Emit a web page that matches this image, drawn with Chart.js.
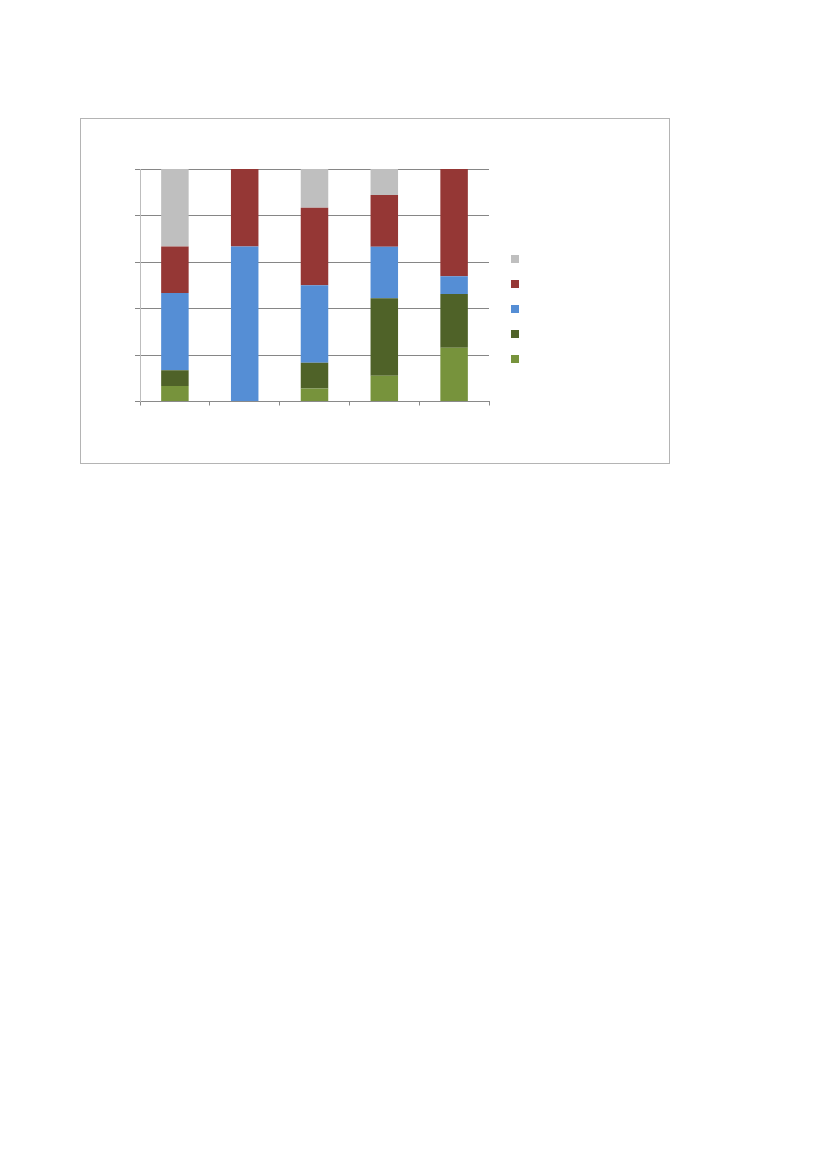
<!DOCTYPE html>
<html>
<head>
<meta charset="utf-8">
<script src="https://cdn.jsdelivr.net/npm/chart.js@4/dist/chart.umd.min.js"></script>
<style>
    body { margin: 0; background: #fff; font-family: "Liberation Sans", Arial, sans-serif; }
    #box {
        position: absolute; left: 80px; top: 118px;
        width: 590px; height: 346px;
        border: 1px solid #b4b4b4; box-sizing: border-box;
    }
    #box canvas { display: block; }
    #legend { position: absolute; left: 430px; top: 136px; margin: 0; padding: 0; list-style: none; }
    #legend li { width: 8px; height: 8px; margin: 0 0 17.1px 0; }
</style>
</head>
<body>
<div id="box">
    <canvas id="myChart" width="588" height="344"></canvas>
    <ul id="legend"></ul>
</div>
<script>
// categories and series (percent of each column, 100% stacked)
const categories = ['1', '2', '3', '4', '5'];
const seriesNames = ['Series 1', 'Series 2', 'Series 3', 'Series 4', 'Series 5'];
const series1 = [6.7, 0, 5.6, 11.1, 23.1];
const series2 = [6.7, 0, 11.1, 33.3, 23.1];
const series3 = [33.3, 66.7, 33.3, 22.2, 7.7];
const series4 = [20, 33.3, 33.3, 22.2, 46.1];
const series5 = [33.3, 0, 16.7, 11.2, 0];
const yTicks = [0, 20, 40, 60, 80, 100];

const colors = ['#77933C', '#4F6228', '#558ED5', '#953735', '#BFBFBF'];
const values = [series1, series2, series3, series4, series5];

function barChart() {
    const ctx = document.getElementById('myChart').getContext('2d');

    const datasets = values.map((v, i) => ({
        label: seriesNames[i],
        data: v,
        backgroundColor: colors[i],
        borderWidth: 0,
        categoryPercentage: 1,
        barPercentage: 0.394
    }));

    // legend drawn as html squares, top to bottom = last series first
    const htmlLegend = {
        id: 'htmlLegend',
        afterUpdate(chart) {
            const ul = document.getElementById('legend');
            ul.innerHTML = '';
            const items = chart.options.plugins.legend.labels.generateLabels(chart).reverse();
            items.forEach(item => {
                const li = document.createElement('li');
                li.style.background = item.fillStyle;
                ul.appendChild(li);
            });
        }
    };

    new Chart(ctx, {
        type: 'bar',
        data: {
            labels: categories,
            datasets: datasets
        },
        options: {
            responsive: false,
            animation: false,
            layout: {
                padding: { left: 54, right: 180, top: 50, bottom: 56.5 }
            },
            plugins: {
                legend: { display: false },
                tooltip: { enabled: false }
            },
            scales: {
                x: {
                    stacked: true,
                    afterFit: (s) => { s.height = 5; },
                    ticks: { display: false },
                    grid: {
                        offset: true,
                        color: 'rgba(0,0,0,0)',
                        tickColor: '#8a8a8a',
                        tickLength: 4
                    },
                    border: { color: '#8a8a8a', width: 1 }
                },
                y: {
                    stacked: true,
                    min: 0,
                    max: 100,
                    afterFit: (s) => { s.width = 5; },
                    afterBuildTicks: (s) => { s.ticks = yTicks.map(v => ({ value: v })); },
                    ticks: { display: false },
                    grid: {
                        color: '#868686',
                        tickColor: '#868686',
                        tickLength: 5
                    },
                    border: { color: '#bdbdbd', width: 1 }
                }
            }
        },
        plugins: [htmlLegend]
    });
}

barChart();
</script>
</body>
</html>
